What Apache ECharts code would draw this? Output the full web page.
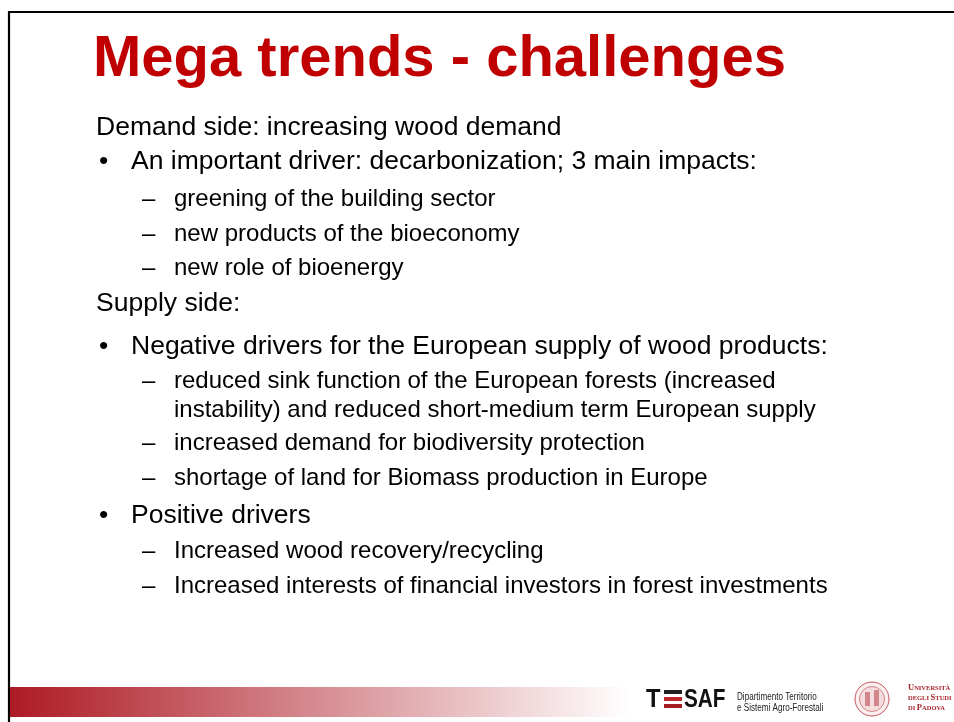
<!DOCTYPE html>
<html>
<head>
<meta charset="utf-8">
<title>Mega trends - challenges</title>
<script src="https://cdn.jsdelivr.net/npm/echarts@6/dist/echarts.min.js"></script>
<style>
    html, body { margin: 0; padding: 0; background: #fff; }
    #slide { width: 954px; height: 722px; }
</style>
</head>
<body>
<div id="slide"></div>
<script>
// slide content
var slideTitle = 'Mega trends - challenges';
var lineTexts = [
    'Demand side: increasing wood demand',
    'An important driver: decarbonization; 3 main impacts:',
    'greening of the building sector',
    'new products of the bioeconomy',
    'new role of bioenergy',
    'Supply side:',
    'Negative drivers for the European supply of wood products:',
    'reduced sink function of the European forests (increased',
    'instability) and reduced short-medium term European supply',
    'increased demand for biodiversity protection',
    'shortage of land for Biomass production in Europe',
    'Positive drivers',
    'Increased wood recovery/recycling',
    'Increased interests of financial investors in forest investments'
];
var lineLevels = [0, 1, 2, 2, 2, 0, 1, 2, 2, 2, 2, 1, 2, 2];
var lineMarkers = ['', '•', '–', '–', '–', '', '•', '–', '', '–', '–', '•', '–', '–'];
var deptLines = ['Dipartimento Territorio', 'e Sistemi Agro-Forestali'];
var uniLines = [['U', 'NIVERSITÀ'], ['DEGLI ', 'S', 'TUDI'], ['DI ', 'P', 'ADOVA']];

// layout (styling only)
var lineY = [127.5, 161.5, 199.5, 234.5, 268.5, 303.5, 346.5, 381.5, 410.5, 443.5, 478.5, 515.5, 551.5, 586.5];
var levelX = [96, 131, 174];
var markerX = [0, 99, 142];
var levelSize = [26.5, 26.5, 24];
var SANS = 'Liberation Sans';

var myChart = echarts.init(document.getElementById('slide'));

function txt(x, y, text, size, weight, fill, scaleX) {
    return {
        type: 'text', x: x, y: y, scaleX: scaleX || 1,
        style: {
            text: text, fontFamily: SANS, fontSize: size, fontWeight: weight,
            fill: fill, verticalAlign: 'middle'
        }
    };
}

function buildElements() {
    var els = [];
    // frame lines
    els.push({ type: 'line', shape: { x1: 8, y1: 12, x2: 954, y2: 12 }, style: { stroke: '#000', lineWidth: 2.2 } });
    els.push({ type: 'line', shape: { x1: 9, y1: 11, x2: 9, y2: 722 }, style: { stroke: '#000', lineWidth: 2.2 } });
    // bottom bar
    els.push({
        type: 'rect', shape: { x: 10, y: 687, width: 620, height: 30 },
        style: { fill: new echarts.graphic.LinearGradient(0, 0, 1, 0, [
            { offset: 0, color: '#AD1A24' },
            { offset: 1, color: '#FFFFFF' }
        ]) }
    });
    // title
    els.push(txt(93, 60, slideTitle, 58, 'bold', '#C00000'));
    // body lines
    for (var i = 0; i < lineTexts.length; i++) {
        var lv = lineLevels[i];
        els.push(txt(levelX[lv], lineY[i], lineTexts[i], levelSize[lv], 'normal', '#000'));
        if (lineMarkers[i]) {
            els.push(txt(markerX[lv], lineY[i], lineMarkers[i], levelSize[lv], 'normal', '#000'));
        }
    }
    // TESAF logo
    els.push(txt(646, 700, 'T', 25, 'bold', '#111', 0.95));
    els.push({ type: 'rect', shape: { x: 664, y: 690, width: 18, height: 4 }, style: { fill: '#222' } });
    els.push({ type: 'rect', shape: { x: 664, y: 697, width: 18, height: 4 }, style: { fill: '#C0262D' } });
    els.push({ type: 'rect', shape: { x: 664, y: 704, width: 18, height: 4 }, style: { fill: '#A51E25' } });
    els.push(txt(684, 700, 'SAF', 25, 'bold', '#111', 0.83));
    for (var d = 0; d < deptLines.length; d++) {
        els.push(txt(737, 697 + d * 11, deptLines[d], 10, 'normal', '#222', 0.81));
    }
    // Padova seal
    els.push({ type: 'circle', shape: { cx: 872, cy: 699, r: 17 }, style: { fill: '#FBEFEF', stroke: '#C2555B', lineWidth: 1 } });
    els.push({ type: 'circle', shape: { cx: 872, cy: 699, r: 12.5 }, style: { fill: '#F5DCDE', stroke: '#C96B70', lineWidth: 0.8 } });
    els.push({ type: 'rect', shape: { x: 865, y: 692, width: 5, height: 14 }, style: { fill: '#D2868B' } });
    els.push({ type: 'rect', shape: { x: 874, y: 690, width: 5, height: 16 }, style: { fill: '#D2868B' } });
    // Padova wordmark
    for (var u = 0; u < uniLines.length; u++) {
        var parts = uniLines[u];
        var rt = '';
        for (var p = 0; p < parts.length; p++) {
            var big = parts[p].length === 1;
            rt += '{' + (big ? 'b' : 's') + '|' + parts[p] + '}';
        }
        els.push({ type: 'text', x: 908, y: 688 + u * 10,
            style: {
                text: rt, fill: '#A8242B', verticalAlign: 'middle',
                rich: {
                    b: { fontSize: 8.5, fontWeight: 'bold', fontFamily: 'Liberation Serif', fill: '#A8242B' },
                    s: { fontSize: 6.5, fontWeight: 'bold', fontFamily: 'Liberation Serif', fill: '#A8242B' }
                }
            } });
    }
    return els;
}

var option = {
    backgroundColor: '#fff',
    animation: false,
    graphic: { elements: buildElements() }
};
myChart.setOption(option);
</script>
</body>
</html>
